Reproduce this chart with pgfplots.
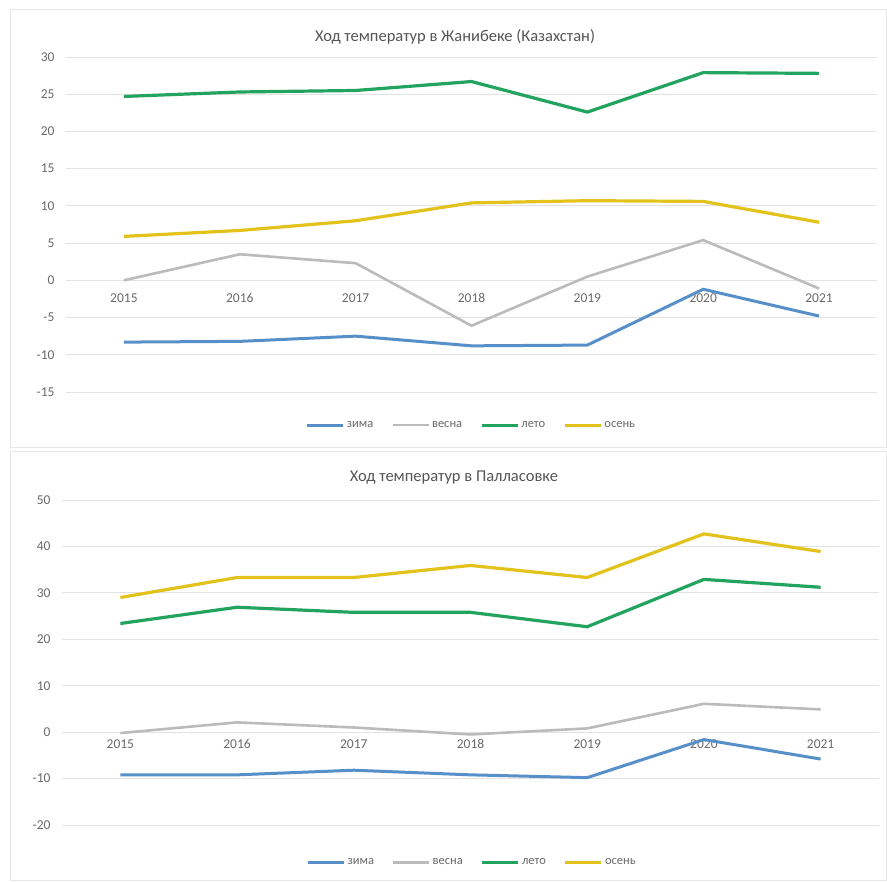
\documentclass[border=0pt]{standalone}
\usepackage{pgfplots}
\pgfplotsset{compat=1.18}
\usepackage{fontspec}
\setmainfont{Carlito}
\definecolor{cwin}{HTML}{5790C8}
\definecolor{cspr}{HTML}{BBBBBB}
\definecolor{csum}{HTML}{22A45E}
\definecolor{caut}{HTML}{E3C21C}
\definecolor{ctxt}{HTML}{6A6A6A}
\definecolor{cgrid}{HTML}{E2E2E2}
\definecolor{cframe}{HTML}{E6E6E6}

\pgfplotsset{
  excel/.style={
    scale only axis,
    xmin=-0.5, xmax=6.5,
    xtick={0,1,2,3,4,5,6},
    xticklabels={2015,2016,2017,2018,2019,2020,2021},
    axis x line=middle,
    axis y line=left,
    x axis line style={draw=cgrid, line width=0.8pt, -},
    y axis line style={draw=none},
    major tick length=0pt,
    ymajorgrids,
    grid style={cgrid, line width=0.8pt},
    tick label style={font=\fontsize{13.5}{15}\selectfont, text=ctxt},
    /pgf/number format/assume math mode=true,
    xticklabel style={text height=9pt, text depth=0pt, anchor=north},
    yticklabel style={xshift=-8pt},
    clip=false,
    legend columns=4,
    legend style={draw=none, fill=none, font=\fontsize{12.5}{14}\selectfont, text=ctxt,
      /tikz/every even column/.append style={column sep=16pt}},
    legend image code/.code={\draw[##1] (0pt,0pt) -- (36pt,0pt);},
  },
  win/.style={cwin, line width=3pt},
  spr/.style={cspr, line width=2.6pt},
  sum/.style={csum, line width=3.2pt},
  aut/.style={caut, line width=3.2pt},
}

\begin{document}
\begin{tikzpicture}
\useasboundingbox (0pt,0pt) rectangle (887pt,882pt);
\fill[white] (0pt,0pt) rectangle (887pt,882pt);
\draw[cframe, line width=1pt] (10pt,434pt) rectangle (886pt,872pt);
\draw[cframe, line width=1pt] (10pt,1pt) rectangle (886pt,430pt);

\node[font=\fontsize{16.5}{18}\selectfont, text=ctxt!80!black] at (455pt,845pt) {Ход температур в Жанибеке (Казахстан)};
\node[font=\fontsize{16.5}{18}\selectfont, text=ctxt!80!black] at (454pt,404pt) {Ход температур в Палласовке};

\begin{axis}[excel,
  at={(66pt,490pt)}, anchor=south west,
  width=811pt, height=335pt,
  ymin=-15, ymax=30, ytick={-15,-10,...,30},
  xticklabel style={yshift=-10pt},
  legend style={at={(0.5,-0.099)}, anchor=center},
]
\addplot[win] coordinates {(0,-8.3) (1,-8.2) (2,-7.5) (3,-8.8) (4,-8.7) (5,-1.2) (6,-4.8)};
\addlegendentry{зима}
\addplot[spr] coordinates {(0,0.0) (1,3.5) (2,2.3) (3,-6.1) (4,0.5) (5,5.4) (6,-1.1)};
\addlegendentry{весна}
\addplot[sum] coordinates {(0,24.7) (1,25.3) (2,25.5) (3,26.7) (4,22.6) (5,27.9) (6,27.8)};
\addlegendentry{лето}
\addplot[aut] coordinates {(0,5.9) (1,6.7) (2,8.0) (3,10.4) (4,10.7) (5,10.6) (6,7.8)};
\addlegendentry{осень}
\end{axis}

\begin{axis}[excel,
  at={(62pt,57pt)}, anchor=south west,
  width=817pt, height=325pt,
  ymin=-20, ymax=50, ytick={-20,-10,...,50},
  xticklabel style={yshift=-4pt},
  legend style={at={(0.502,-0.116)}, anchor=center},
]
\addplot[win] coordinates {(0,-9.2) (1,-9.2) (2,-8.2) (3,-9.2) (4,-9.8) (5,-1.6) (6,-5.8)};
\addlegendentry{зима}
\addplot[spr] coordinates {(0,-0.2) (1,2.1) (2,1.0) (3,-0.5) (4,0.8) (5,6.1) (6,4.9)};
\addlegendentry{весна}
\addplot[sum] coordinates {(0,23.4) (1,26.9) (2,25.8) (3,25.8) (4,22.7) (5,32.9) (6,31.2)};
\addlegendentry{лето}
\addplot[aut] coordinates {(0,29.0) (1,33.3) (2,33.3) (3,35.9) (4,33.3) (5,42.7) (6,38.9)};
\addlegendentry{осень}
\end{axis}
\end{tikzpicture}
\end{document}
